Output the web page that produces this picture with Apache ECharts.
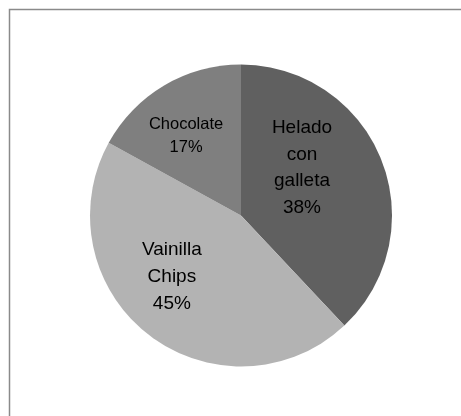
<!DOCTYPE html>
<html>
<head>
<meta charset="utf-8">
<style>
html,body{margin:0;padding:0;background:#fff;}
#chart{width:461px;height:416px;}
</style>
<script src="https://cdn.jsdelivr.net/npm/echarts@6/dist/echarts.min.js"></script>
</head>
<body>
<div id="chart"></div>
<script>
var categories = ['Helado\ncon\ngalleta', 'Vainilla\nChips', 'Chocolate'];
var values = [38, 45, 17];
var colors = ['#606060', '#b3b3b3', '#7f7f7f'];
var labelOffsets = [[-12, -19], [-21, -1], [-15, -12]];
var labelSizes = [19, 19, 16.5];
var lineHeights = [26.5, 27, 23];

var chart = echarts.init(document.getElementById('chart'), null, {renderer: 'canvas'});
var data = categories.map(function (c, i) {
  return {
    name: c,
    value: values[i],
    itemStyle: {color: colors[i]},
    label: {offset: labelOffsets[i], fontSize: labelSizes[i], lineHeight: lineHeights[i]}
  };
});
chart.setOption({
  animation: false,
  backgroundColor: '#ffffff',
  graphic: [{
    type: 'rect',
    shape: {x: 9.5, y: 9.5, width: 600, height: 600},
    style: {fill: 'none', stroke: '#8a8a8a', lineWidth: 1.5},
    silent: true
  }],
  series: [{
    type: 'pie',
    center: [241, 215.5],
    radius: [0, 151],
    startAngle: 90,
    clockwise: true,
    avoidLabelOverlap: false,
    itemStyle: {borderWidth: 0},
    label: {
      show: true,
      position: 'inside',
      color: '#000000',
      fontFamily: 'Liberation Sans, Arial, sans-serif',
      align: 'center',
      formatter: function (p) { return p.name + '\n' + Math.round(p.percent) + '%'; }
    },
    labelLine: {show: false},
    emphasis: {disabled: true},
    data: data
  }]
});
</script>
</body>
</html>
